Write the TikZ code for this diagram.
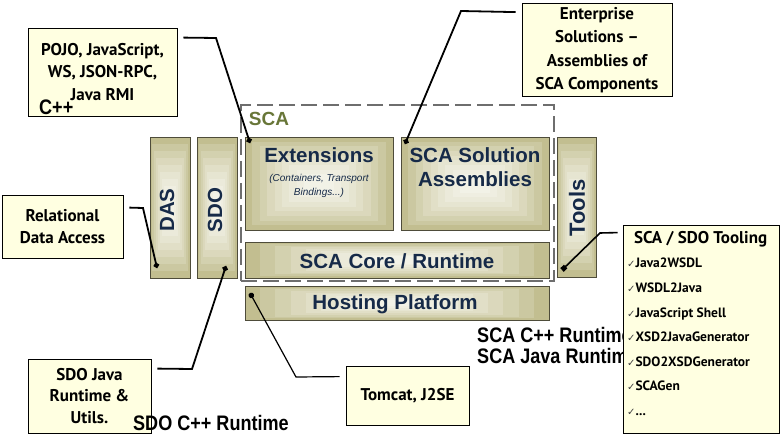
\documentclass[tikz,border=0pt]{standalone}
\usepackage{fontspec}
\setmainfont{Liberation Sans}
\newfontfamily\gill{PT Sans}
\newfontfamily\dejavu{DejaVu Sans}
\newfontfamily\narrowfont[FakeStretch=0.86]{Liberation Sans}
\usetikzlibrary{arrows.meta,calc}
\definecolor{olivebox}{RGB}{194,190,144}
\definecolor{olivelight}{RGB}{245,245,236}
\definecolor{navy}{RGB}{22,42,72}
\definecolor{callfill}{RGB}{255,255,225}
\definecolor{scagreen}{RGB}{104,118,56}
\definecolor{dashgray}{RGB}{110,110,110}
\newcommand{\tick}{{\dejavu\fontsize{10}{10}\selectfont\color{black!75}✓}}
\tikzset{
  layerbox/.style={draw=black!60!olivebox, line width=0.7pt, fill=olivebox, inner sep=0pt,
    path picture={
      \foreach \f/\m in {0.10/18,0.20/34,0.30/48,0.40/60,0.50/71,0.60/80,0.70/88,0.80/94}{
        \fill[olivelight!\m!olivebox]
          ($(path picture bounding box.south west)!\f!(path picture bounding box.center)$) rectangle
          ($(path picture bounding box.north east)!\f!(path picture bounding box.center)$);
      }}},
  boxlabel/.style={font=\bfseries\fontsize{20.5}{24}\selectfont, text=navy, inner sep=0pt, align=center},
  subital/.style={font=\itshape\fontsize{10}{14}\selectfont, text=navy, inner sep=0pt, align=center},
  callout/.style={draw=black, line width=0.8pt, fill=callfill, inner sep=0pt,
    font=\gill\bfseries\fontsize{17}{22.5}\selectfont, align=center},
  note/.style={font=\narrowfont\bfseries\fontsize{21}{21}\selectfont, inner sep=0pt, align=left},
  scaframe/.style={draw=dashgray, line width=1.1pt, dash pattern=on 16pt off 6pt},
  conn/.style={line width=1.8pt, -{Circle[length=5.5pt]}},
}
\begin{document}
\begin{tikzpicture}[x=1pt,y=-1pt]
\useasboundingbox (0,0) rectangle (781,435);

% SCA frame
\node[scaframe, minimum width=313pt, minimum height=176pt] (sca) at (397.5,193) {};
\node[font=\bfseries\fontsize{19}{19}\selectfont, text=scagreen, inner sep=0pt] (scalabel) at (269,118.5) {SCA};

% layer boxes
\node[layerbox, minimum width=40pt, minimum height=141pt] (das) at (170,207.5) {};
\node[layerbox, minimum width=40pt, minimum height=141pt] (sdo) at (217,207.5) {};
\node[layerbox, minimum width=148pt, minimum height=93pt] (ext) at (319,183.5) {};
\node[layerbox, minimum width=148pt, minimum height=93pt] (sol) at (475,183.5) {};
\node[layerbox, minimum width=304pt, minimum height=36pt] (core) at (397,260) {};
\node[layerbox, minimum width=304pt, minimum height=34pt] (host) at (397,303) {};
\node[layerbox, minimum width=39pt, minimum height=140pt] (tools) at (576.5,207) {};

\node[boxlabel, rotate=90] (daslabel) at (167,210) {DAS};
\node[boxlabel, rotate=90] (sdolabel) at (215,210) {SDO};
\node[boxlabel, rotate=90, font=\bfseries\fontsize{22}{24}\selectfont] (toolslabel) at (577,208) {Tools};
\node[boxlabel] (extlabel) at (319,155) {Extensions};
\node[subital] (extsub) at (319,186) {(Containers, Transport\\Bindings...)};
\node[boxlabel] (sollabel) at (475,167) {SCA Solution\\Assemblies};
\node[boxlabel] (corelabel) at (397,261) {SCA Core / Runtime};
\node[boxlabel] (hostlabel) at (395,304) {Hosting Platform};

% runtime notes (behind tooling box)
\node[note, anchor=north west] (scaruntime) at (477,327) {SCA C++ Runtime\\SCA Java Runtime};

% callouts
\node[callout, minimum width=149pt, minimum height=88pt] (pojo) at (102.5,72) {POJO, JavaScript,\\WS, JSON-RPC,\\Java RMI};
\node[callout, minimum width=150pt, minimum height=93pt, font=\gill\bfseries\fontsize{17}{23.5}\selectfont] (ent) at (597,50) {Enterprise\\Solutions –\\Assemblies of\\SCA Components};
\node[callout, minimum width=121pt, minimum height=63pt] (rel) at (62.5,226.5) {Relational\\Data Access};
\node[callout, minimum width=156pt, minimum height=208pt] (tooling) at (701,329) {};
\node[callout, minimum width=123pt, minimum height=74pt, font=\gill\bfseries\fontsize{17}{21.5}\selectfont] (sdoj) at (89.5,396) {SDO Java\\Runtime \&\\Utils.};
\node[callout, minimum width=123pt, minimum height=59pt] (tom) at (407.5,395.5) {Tomcat, J2SE};

\node[inner sep=0pt, anchor=north west, align=left, font=\gill\bfseries\fontsize{13.5}{24.6}\selectfont] (tooltext) at (627,231)
  {\hspace*{7pt}{\fontsize{17}{24.6}\selectfont SCA / SDO Tooling}\\
   \tick Java2WSDL\\
   \tick WSDL2Java\\
   \tick JavaScript Shell\\
   \tick XSD2JavaGenerator\\
   \tick SDO2XSDGenerator\\
   \tick SCAGen\\
   \tick ...};

\node[note, anchor=west] (cpp) at (39,107) {C++};
\node[note, anchor=west] (sdocpp) at (133,423) {SDO C++ Runtime};

% connector end points
\coordinate (extdot) at (250,143);
\coordinate (soldot) at (405,144);
\coordinate (dasdot) at (157,268);
\coordinate (sdodot) at (226,266);
\coordinate (hostdot) at (250,293);
\coordinate (toolsdot) at (562,270);
\coordinate (pojoel) at (216,38);
\coordinate (entel) at (461,11);
\coordinate (relel) at (143,208);
\coordinate (sdojel) at (192,369);
\coordinate (tomel) at (296,377);
\coordinate (toolel) at (600,233);

% connectors
\draw[conn] ([xshift=6pt,yshift=-10pt]pojo.north east) -- (pojoel) -- (extdot);
\draw[conn] ([xshift=-6pt,yshift=-9pt]ent.north west) -- (entel) -- (soldot);
\draw[conn] ([xshift=6pt,yshift=-13pt]rel.north east) -- (relel) -- (dasdot);
\draw[conn] ([xshift=6pt,yshift=-10pt]sdoj.north east) -- (sdojel) -- (sdodot);
\draw[conn, line width=1.2pt] ([xshift=-6pt,yshift=-11pt]tom.north west) -- (tomel) -- (hostdot);
\draw[line width=1.6pt, -{Square[length=5pt]}] ([xshift=-5pt,yshift=-8pt]tooling.north west) -- (toolel) -- (toolsdot);
\end{tikzpicture}
\end{document}
